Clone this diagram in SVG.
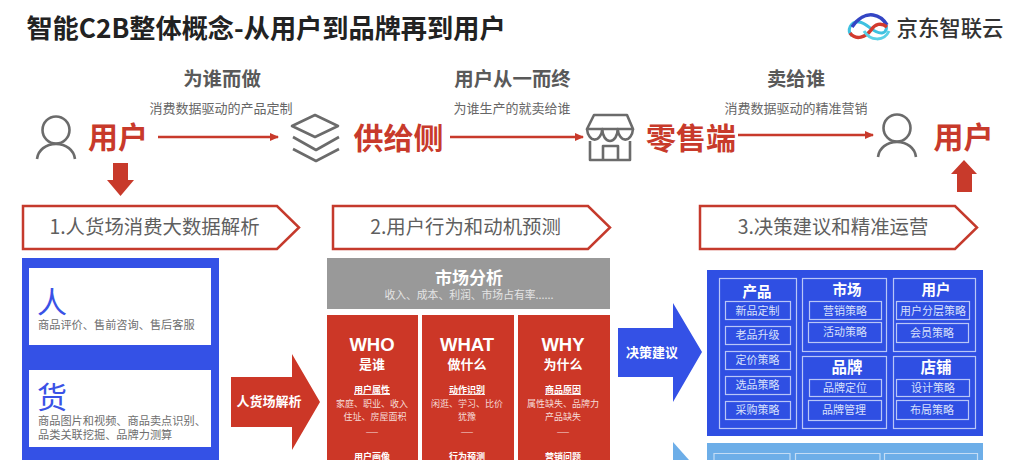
<svg xmlns="http://www.w3.org/2000/svg" width="1028" height="460" viewBox="0 0 1028 460">
<style>
text{font-family:"Noto Sans CJK SC","Noto Sans",sans-serif;text-anchor:middle}
.s{text-anchor:start}
.gh{fill:#595959;font-size:19.4px;font-weight:700}
.gs{fill:#666;font-size:13px}
.big{fill:#c83a2b;font-size:30px;font-weight:700}
.chev{fill:#fff;stroke:#c53a2c;stroke-width:2.5}
.cl{fill:#5f5f5f;font-size:19.4px}
.ic{fill:none;stroke:#6b6b6b;stroke-width:2.6;stroke-linejoin:round}
.wb{fill:#fff}
.bg{fill:#3a52e6;font-size:30px}
.dt{fill:#6e6e6e;font-size:11.2px}
.red{fill:#cc3727}
.en{font-family:"Liberation Sans",Arial,sans-serif;font-size:18.5px;font-weight:700;fill:#fff}
.zh{font-size:13px;font-weight:700;fill:#fff}
.u{font-size:9px;font-weight:700;fill:#fff;text-decoration:underline}
.t{font-size:9px;fill:#f6dcd8}
.dash{font-size:7.5px;fill:#f6dcd8}
.o{fill:none;stroke:#b9c6f7;stroke-width:1.2}
.h{font-size:14.5px;font-weight:700;fill:#fff}
.i{font-size:11px;fill:#d8e0fb}
.line{fill:none;stroke:#c83a2b;stroke-width:2.5}
</style>
<defs><marker id="ah" markerUnits="userSpaceOnUse" markerWidth="10" markerHeight="10" refX="8" refY="5" orient="auto"><path d="M0 1L9 5L0 9Z" fill="#c83a2b"/></marker></defs>
<rect width="1028" height="460" fill="#fff"/>
<text id="title" x="266" y="38" style="font-size:26.2px;font-weight:700;fill:#222">智能C2B整体概念-从用户到品牌再到用户</text>

<g id="logo">
<path d="M852 36C846 30 851 21 859 22C868 23 873 34 882 33C887 32 888 26 884 23" fill="none" stroke="#3fc1e0" stroke-width="3"/>
<path d="M852 27C858 18 866 14 873 15C880 16 884 20 887 25" fill="none" stroke="#3345c4" stroke-width="3.5"/>
<path d="M850 33C856 41 866 37 871 30C875 24 881 22 887 27" fill="none" stroke="#d23a2e" stroke-width="3.5"/>
<path d="M864 31C870 41 884 42 889 31" fill="none" stroke="#5ad0e6" stroke-width="3"/>
<text x="950" y="36" style="font-size:21.4px;font-weight:500;fill:#333">京东智联云</text>
</g>

<g id="connectors">
<path class="line" d="M158 137H278" marker-end="url(#ah)"/>
<path class="line" d="M450 137H583" marker-end="url(#ah)"/>
<path class="line" d="M738 135H873" marker-end="url(#ah)"/>
<path d="M113 163H128V180H134L120.500 196L107 180H113Z" fill="#c83a2b"/>
<path d="M957 192H972V174H977L964 160L951 174H957Z" fill="#c83a2b"/>
<path id="arrow-a" d="M231 377H292V354L320 402L292 450V427H231Z" fill="#cc3727"/>
<path id="arrow-b" d="M618 328H673V303L702 352L673 402V377H618Z" fill="#3451e6"/>
<path id="arrow-c" d="M673 442L689 460H673Z" fill="#6daee8"/>
</g>

<g id="stage-labels">
<text class="gh" x="222" y="86">为谁而做</text>
<text class="gs" x="221" y="113">消费数据驱动的产品定制</text>
<text class="gh" x="512.500" y="86">用户从一而终</text>
<text class="gs" x="512" y="113">为谁生产的就卖给谁</text>
<text class="gh" x="796" y="86">卖给谁</text>
<text class="gs" x="796" y="113">消费数据驱动的精准营销</text>
</g>

<g id="user-left">
<circle class="ic" cx="56" cy="130" r="13.500"/>
<path class="ic" d="M37 159C38 150 46 144 56 144C66 144 74 150 75 159"/>
<text class="big" x="118" y="148">用户</text>
</g>
<g id="supply">
<path class="ic" d="M315 115L338 126L315 137L292 126Z"/>
<path class="ic" d="M293 137L316 150L339 137M293 149L316 161L339 149"/>
<text class="big" x="398.500" y="149">供给侧</text>
</g>
<g id="retail">
<path class="ic" d="M594 115H627L633 129H587Z"/>
<path class="ic" d="M587 129A7.700 12 0 0 0 602.300 129A7.700 12 0 0 0 617.700 129A7.700 12 0 0 0 633 129"/>
<path class="ic" d="M590 141V160H630V141M603 160V146H618V160"/>
<text class="big" x="691" y="149">零售端</text>
</g>
<g id="user-right">
<circle class="ic" cx="897" cy="128" r="13.500"/>
<path class="ic" d="M878 157C879 148 887 142 897 142C907 142 915 148 916 157"/>
<text class="big" x="963.500" y="148">用户</text>
</g>

<g id="step1"><path class="chev" d="M23 206H277L299 227.500L277 249H23Z"/><text class="cl" x="154.500" y="234">1.人货场消费大数据解析</text></g>
<g id="step2"><path class="chev" d="M333 206H588L610 227.500L588 249H333Z"/><text class="cl" x="465.500" y="234">2.用户行为和动机预测</text></g>
<g id="step3"><path class="chev" d="M700 206H955L977 227.500L955 249H700Z"/><text class="cl" x="833" y="234">3.决策建议和精准运营</text></g>

<g id="panel-data">
<rect x="22" y="258" width="197" height="202" fill="#3451e6"/>
<rect class="wb" x="29" y="268" width="182" height="77"/>
<text class="bg" x="52" y="313">人</text>
<text class="dt s" x="38" y="329">商品评价、售前咨询、售后客服</text>
<rect class="wb" x="29" y="370" width="182" height="77"/>
<text class="bg" x="52" y="408">货</text>
<text class="dt s" x="38" y="425">商品图片和视频、商品卖点识别、</text>
<text class="dt s" x="38" y="439">品类关联挖掘、品牌力测算</text>
</g>
<text id="label-a" x="269" y="406" style="font-size:13px;font-weight:700;fill:#fff">人货场解析</text>

<g id="market">
<rect x="327" y="258" width="283" height="51" fill="#999"/>
<text x="469" y="284" style="font-size:17px;font-weight:700;fill:#fff">市场分析</text>
<text x="469" y="299" style="font-size:10.800px;fill:#e4e4e4">收入、成本、利润、市场占有率......</text>
</g>
<g id="who">
<rect class="red" x="327" y="315" width="91" height="145"/>
<text class="en" x="372" y="351">WHO</text><text class="zh" x="372" y="369">是谁</text>
<text class="u" x="372" y="393">用户属性</text>
<text class="t" x="372" y="407">家庭、职业、收入</text>
<text class="t" x="375" y="420">住址、房屋面积</text>
<text class="dash" x="372" y="435">——</text>
<text class="u" x="372" y="460">用户画像</text>
</g>
<g id="what">
<rect class="red" x="422" y="315" width="92" height="145"/>
<text class="en" x="467" y="351">WHAT</text><text class="zh" x="467" y="369">做什么</text>
<text class="u" x="467" y="393">动作识别</text>
<text class="t" x="467" y="407">闲逛、学习、比价</text>
<text class="t" x="467" y="420">犹豫</text>
<text class="dash" x="467" y="435">——</text>
<text class="u" x="467" y="460">行为预测</text>
</g>
<g id="why">
<rect class="red" x="518" y="315" width="92" height="145"/>
<text class="en" x="563" y="351">WHY</text><text class="zh" x="563" y="369">为什么</text>
<text class="u" x="563" y="393">商品原因</text>
<text class="t" x="563" y="407">属性缺失、品牌力</text>
<text class="t" x="563" y="420">产品缺失</text>
<text class="dash" x="563" y="435">——</text>
<text class="u" x="563" y="460">营销问题</text>
</g>
<text id="label-b" x="652" y="357" style="font-size:13px;font-weight:700;fill:#fff">决策建议</text>

<g id="decision">
<rect x="707" y="270" width="276" height="166" fill="#2f4fe3"/>
<rect class="o" x="719.500" y="278.500" width="77" height="150"/>
<text class="h" x="757" y="297">产品</text>
<rect class="o" x="725.500" y="301.500" width="65" height="18"/><text class="i" x="757.500" y="315">新品定制</text>
<rect class="o" x="725.500" y="326.500" width="65" height="18"/><text class="i" x="757.500" y="339">老品升级</text>
<rect class="o" x="725.500" y="351.500" width="65" height="18"/><text class="i" x="757.500" y="364">定价策略</text>
<rect class="o" x="725.500" y="376.500" width="65" height="18"/><text class="i" x="757.500" y="389">选品策略</text>
<rect class="o" x="725.500" y="401.500" width="65" height="18"/><text class="i" x="757.500" y="414">采购策略</text>

<rect class="o" x="802.500" y="278.500" width="84" height="73"/>
<text class="h" x="847" y="295">市场</text>
<rect class="o" x="809.500" y="301.500" width="72" height="18"/><text class="i" x="845" y="315">营销策略</text>
<rect class="o" x="808.500" y="322.500" width="73" height="20"/><text class="i" x="845" y="336">活动策略</text>

<rect class="o" x="893.500" y="278.500" width="82" height="73"/>
<text class="h" x="936" y="295">用户</text>
<rect class="o" x="896.500" y="301.500" width="73" height="18"/><text class="i" x="933" y="315">用户分层策略</text>
<rect class="o" x="896.500" y="323.500" width="72" height="19"/><text class="i" x="932" y="337">会员策略</text>

<rect class="o" x="802.500" y="356.500" width="84" height="72"/>
<text class="h" x="847" y="373" style="font-size:15.500px">品牌</text>
<rect class="o" x="809.500" y="379.500" width="72" height="17"/><text class="i" x="845" y="392">品牌定位</text>
<rect class="o" x="808.500" y="400.500" width="73" height="20"/><text class="i" x="844" y="414">品牌管理</text>

<rect class="o" x="893.500" y="356.500" width="82" height="72"/>
<text class="h" x="936" y="373" style="font-size:15.500px">店铺</text>
<rect class="o" x="896.500" y="379.500" width="73" height="17"/><text class="i" x="933" y="392">设计策略</text>
<rect class="o" x="896.500" y="400.500" width="72" height="19"/><text class="i" x="932" y="414">布局策略</text>
</g>
<g id="operation">
<rect x="707" y="443" width="276" height="17" fill="#6daee8"/>
<path d="M714 460V453.500H790V460M795.500 460V453.500H880V460M884.500 460V453.500H977.500V460" fill="none" stroke="#c3dcf5" stroke-width="1.200"/>
</g>
</svg>
